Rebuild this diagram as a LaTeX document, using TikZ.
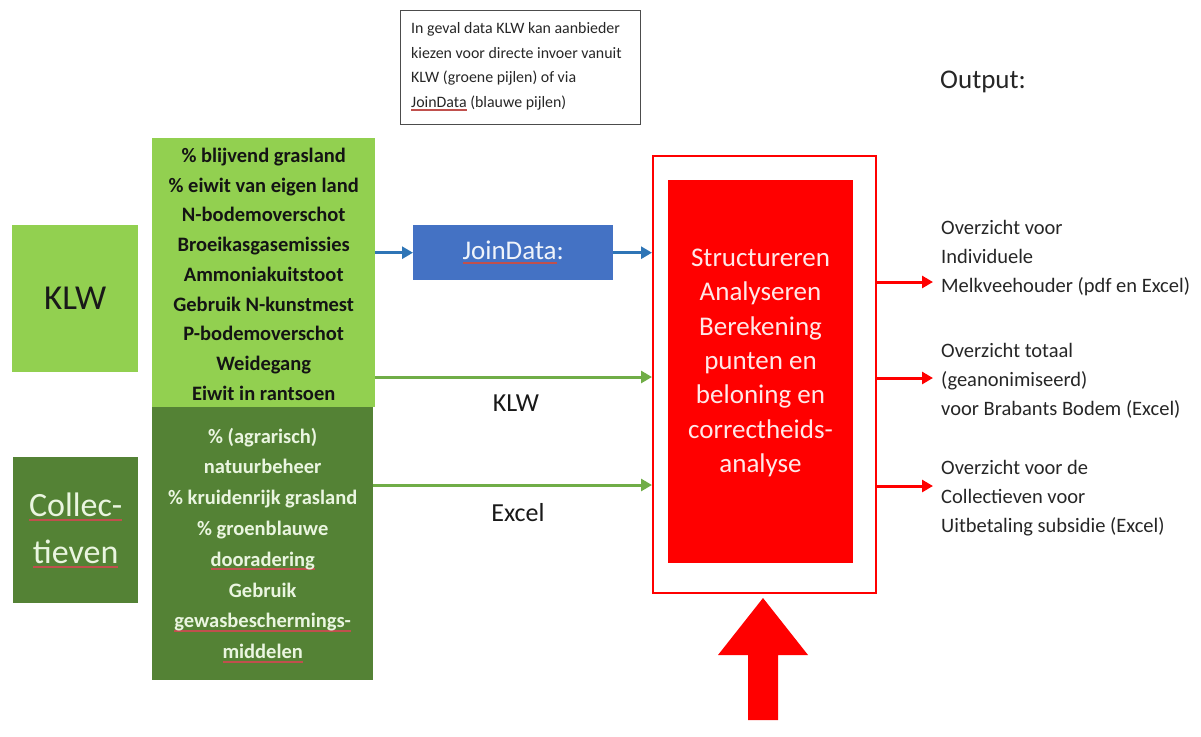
\documentclass[tikz,border=0pt]{standalone}
\usepackage{fontspec}
\setmainfont{Carlito}
\usetikzlibrary{arrows.meta}
\definecolor{lgreen}{HTML}{92D050}
\definecolor{dgreen}{HTML}{548235}
\definecolor{jblue}{HTML}{4472C4}
\definecolor{ablue}{HTML}{2E75B6}
\definecolor{agreen}{HTML}{70AD47}
\definecolor{lighttxt}{HTML}{EAF5E0}
\definecolor{pinktxt}{HTML}{FFE8E8}
\definecolor{sqcol}{HTML}{C0504D}
\newsavebox\sqbox
\newcommand{\sqg}[1]{\sbox\sqbox{#1}\leavevmode\rlap{\color{sqcol}\vrule width \wd\sqbox height -2.2pt depth 4pt}\usebox\sqbox}
\tikzset{
  box/.style={draw=none, inner sep=0pt, anchor=north west},
  garrow/.style={draw=agreen, line width=3pt, -{Triangle[length=11pt,width=12pt]}},
  barrow/.style={draw=ablue, line width=3pt, -{Triangle[length=11pt,width=12pt]}},
  rarrow/.style={draw=red, line width=3pt, -{Triangle[length=11pt,width=12pt]}},
  outtxt/.style={anchor=west, align=left, inner sep=0pt, text=black!85, font=\fontsize{20.5}{29}\selectfont},
}
\begin{document}
\begin{tikzpicture}[x=1pt,y=-1pt]
\useasboundingbox (0,0) rectangle (1201,736);
% note
\node[box, draw=black!70, line width=1pt, minimum width=240pt, minimum height=114pt] (note) at (400,10) {};
\node[anchor=west, align=left, inner sep=0pt, text=black!85,
      font=\fontsize{15.9}{24.5}\selectfont] (notetxt) at (411,67)
  {In geval data KLW kan aanbieder\\kiezen voor directe invoer vanuit\\KLW (groene pijlen) of via\\\sqg{JoinData} (blauwe pijlen)};
% Output title
\node[anchor=west, inner sep=0pt, font=\fontsize{27}{27}\selectfont, text=black!85] (outtitle) at (940,82) {Output:};
% source boxes
\node[box, fill=lgreen, minimum width=126pt, minimum height=147pt] (klwsrc) at (12,225) {};
\node[font=\fontsize{35}{35}\selectfont, text=black!90] (klwtxt) at (klwsrc.center) {KLW};
\node[box, fill=dgreen, minimum width=125pt, minimum height=146pt] (colsrc) at (13,457) {};
\node[align=center, text=lighttxt, font=\fontsize{34}{47}\selectfont] (coltxt) at (colsrc.center) {\sqg{Collec-}\\\sqg{tieven}};
% indicator blocks
\node[box, fill=lgreen, minimum width=223pt, minimum height=269pt] (lg) at (152,138) {};
\node[align=center, text=black!92, font=\bfseries\fontsize{20.5}{29.7}\selectfont] (lgtxt) at ([yshift=-1.5pt]lg.center)
 {\% blijvend grasland\\\% eiwit van eigen land\\N-bodemoverschot\\Broeikasgasemissies\\Ammoniakuitstoot\\Gebruik N-kunstmest\\P-bodemoverschot\\Weidegang\\Eiwit in rantsoen};
\node[box, fill=dgreen, minimum width=221pt, minimum height=273pt] (dg) at (152,407) {};
\node[align=center, text=lighttxt, font=\bfseries\fontsize{20.5}{30.8}\selectfont] (dgtxt) at ([yshift=-1.5pt]dg.center)
 {\% (agrarisch)\\natuurbeheer\\\% kruidenrijk grasland\\\% groenblauwe\\\sqg{dooradering}\\Gebruik\\\sqg{gewasbeschermings-}\\\sqg{middelen}};
% JoinData
\node[box, fill=jblue, minimum width=200pt, minimum height=55pt] (jd) at (413,225) {};
\node[text=white!92!jblue, font=\fontsize{27}{27}\selectfont] (jdtxt) at (jd.center) {\sqg{JoinData}:};
% processing
\node[box, draw=red, line width=2pt, fill=white, minimum width=223pt, minimum height=437pt] (outer) at (652,155) {};
\node[box, fill=red, minimum width=185pt, minimum height=383pt] (proc) at (668,180) {};
\node[align=center, text=pinktxt, font=\fontsize{27}{34.3}\selectfont] (proctxt) at (760.5,363)
 {Structureren\\Analyseren\\Berekening\\punten en\\beloning en\\correctheids-\\analyse};
% input connectors
\coordinate (kin) at (375,377);
\coordinate (ein) at (373,485);
\draw[barrow] (lg.east |- jd.west) -- (jd.west);
\draw[barrow] (jd.east) -- (outer.west |- jd.east);
\draw[garrow] (kin) -- (outer.west |- kin);
\draw[garrow] (ein) -- (outer.west |- ein);
\node[font=\fontsize{26}{26}\selectfont, text=black!90] (klwlab) at (516,403) {KLW};
\node[font=\fontsize{26}{26}\selectfont, text=black!90] (excellab) at (518,513) {Excel};
% outputs
\coordinate (o1) at (933,282);
\coordinate (o2) at (933,378);
\coordinate (o3) at (933,486);
\draw[rarrow] (outer.east |- o1) -- (o1);
\draw[rarrow] (outer.east |- o2) -- (o2);
\draw[rarrow] (outer.east |- o3) -- (o3);
\node[outtxt] (out1) at (941,258.5) {Overzicht voor\\Individuele\\Melkveehouder (pdf en Excel)};
\node[outtxt] (out2) at (941,380.5) {Overzicht totaal\\(geanonimiseerd)\\voor Brabants Bodem (Excel)};
\node[outtxt] (out3) at (941,498.5) {Overzicht voor de\\Collectieven voor\\Uitbetaling subsidie (Excel)};
% big input arrow
\fill[red] (748,720) -- (778,720) -- (778,655) -- (808,655) -- (763,598) -- (718,655) -- (748,655) -- cycle;
\end{tikzpicture}
\end{document}
